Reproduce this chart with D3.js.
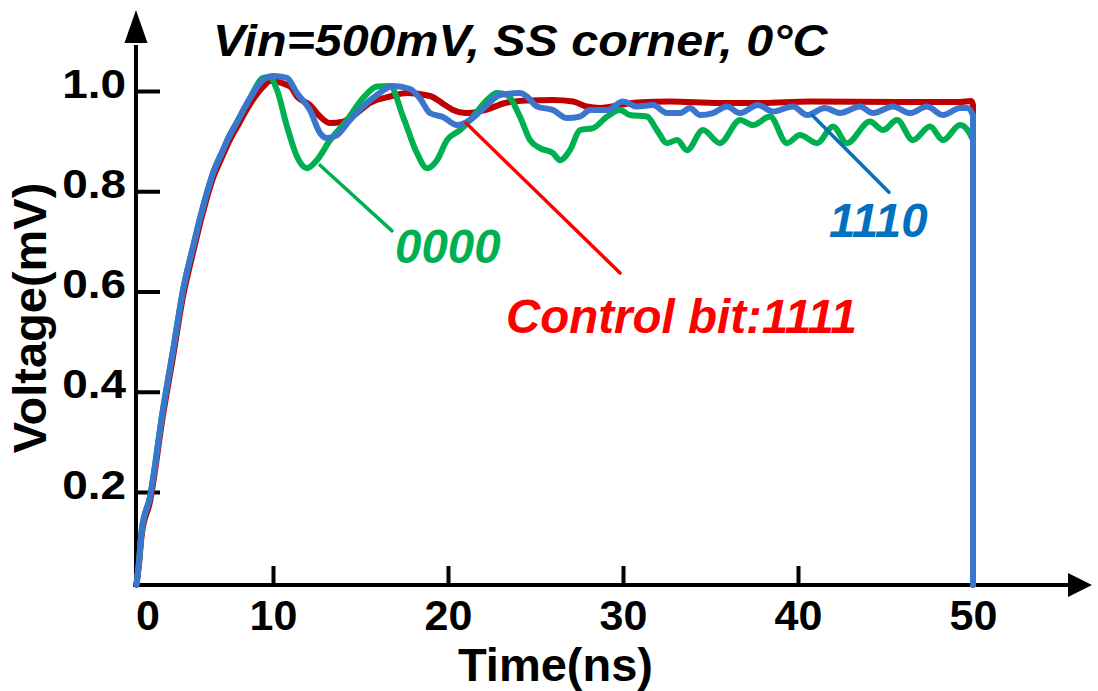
<!DOCTYPE html>
<html><head><meta charset="utf-8">
<script src="https://cdn.jsdelivr.net/npm/d3@7"></script>
<style>
html,body{margin:0;padding:0;background:#fff;}
text{font-family:"Liberation Sans",Arial,sans-serif;font-weight:bold;}
</style></head>
<body><svg id="chart" width="1098" height="691"></svg>
<script>
// ---- data ----
const titleText = "Vin=500mV, SS corner, 0°C";
const xLabel = "Time(ns)";
const yLabel = "Voltage(mV)";
const xTickValues = [10, 20, 30, 40, 50];
const xOriginLabel = "0";
const yTickValues = [0.2, 0.4, 0.6, 0.8, 1.0];

const timeRed = [2.2,2.34,2.5,2.97,3.71,4.29,4.86,5.43,6.0,6.57,7.14,7.5,7.94,8.69,9.43,9.83,10.97,11.37,12.11,12.69,13.26,14.0,14.8,15.54,16.69,17.66,18.97,19.83,20.29,20.97,22.11,23.26,24.51,26.0,27.14,27.94,28.69,29.83,30.8,32.69,35.54,37.83,40.69,45.83,49.26,49.9,50.0,50.0];
const voltRed = [.015,.055,.115,.18,.352,.47,.59,.677,.758,.826,.872,.9,.928,.974,1.008,1.02,1.009,.989,.972,.949,.936,.939,.956,.976,.989,.996,.99,.972,.962,.956,.962,.976,.981,.982,.979,.969,.966,.972,.977,.979,.976,.976,.979,.978,.978,.98,.972,.015];

const timeGreen = [2.2,2.34,2.5,2.97,3.71,4.29,4.86,5.43,6.0,6.57,7.14,7.5,7.94,8.69,9.43,9.8,10.23,10.8,11.37,11.94,12.51,13.26,14.23,15.14,15.94,16.69,17.43,18.23,18.8,19.37,19.94,20.69,21.43,22.23,22.8,23.37,24.11,24.69,25.26,26.0,26.4,26.97,27.54,28.29,29.09,29.83,30.4,31.37,31.94,32.51,33.09,33.66,34.57,35.54,36.69,37.43,38.4,39.37,40.11,41.09,42.0,42.8,44.11,44.86,45.66,46.57,47.54,48.29,49.26,50.0,50.0];
const voltGreen = [.015,.06,.124,.19,.364,.483,.603,.689,.769,.836,.882,.91,.938,.986,1.026,1.028,1.002,.929,.869,.846,.862,.902,.942,.986,1.009,1.01,.949,.876,.846,.862,.902,.922,.949,.982,.996,.992,.949,.902,.886,.876,.862,.882,.922,.926,.949,.962,.952,.949,.922,.896,.902,.882,.922,.896,.942,.932,.949,.896,.912,.896,.929,.896,.939,.922,.942,.902,.929,.902,.932,.902,.015];

const timeBlue = [2.2,2.34,2.5,2.97,3.71,4.29,4.86,5.43,6.0,6.57,7.14,7.5,7.94,8.69,9.43,10.0,10.8,11.37,12.11,12.69,13.09,13.66,14.4,15.14,15.94,16.86,17.83,18.4,18.97,19.71,20.51,21.26,22.11,22.97,24.11,24.51,25.09,26.0,26.8,27.54,28.11,29.09,30.0,30.8,31.71,32.51,33.26,33.83,34.4,35.14,35.94,36.69,37.71,38.57,39.71,40.51,41.54,42.4,43.54,44.29,45.43,46.4,47.37,48.29,49.26,49.66,50.0,50.0];
const voltBlue = [.015,.06,.124,.19,.364,.483,.603,.689,.769,.836,.882,.91,.938,.986,1.022,1.030,1.026,.996,.962,.916,.906,.912,.942,.969,.992,1.010,1.004,.985,.956,.948,.932,.942,.968,.992,.996,.989,.969,.962,.946,.949,.962,.962,.979,.969,.972,.956,.956,.966,.952,.956,.969,.956,.972,.959,.969,.952,.966,.956,.969,.956,.969,.956,.969,.952,.966,.966,.952,.015];

// annotations: leader line from (t0,v0) to (t1,v1), label anchored at (tl,vl)
const annoLabels = ["0000", "Control bit:1111", "1110"];
const annoLine = [[12.69,0.852,16.8,0.721],[21.03,0.936,29.83,0.637],[40.8,0.952,45.2,0.798]];
const annoText = [[16.97,0.657],[23.31,0.517],[41.77,0.709]];
const annoColors = ["#00B050", "#FF0000", "#0070C0"];

const series = [
  {t: timeRed, v: voltRed, color: "#C00000"},
  {t: timeGreen, v: voltGreen, color: "#00B050"},
  {t: timeBlue, v: voltBlue, color: "#3A76CE"}
];

// ---- scales ----
const svg = d3.select("#chart");
svg.append("rect").attr("width",1098).attr("height",691).attr("fill","#fff");
const x = d3.scaleLinear().domain([10, 50]).range([273, 973]);
const y = d3.scaleLinear().domain([0.2, 1.0]).range([492, 91]);
const x0 = x(2.17), yBase = y(0.0145);
const xEnd = 1070, yTop = 43;

// axis lines with arrows
const axisG = svg.append("g");
axisG.append("line").attr("x1",x0).attr("x2",x0).attr("y1",yBase+1).attr("y2",yTop+2)
  .attr("stroke","#000").attr("stroke-width",4);
axisG.append("path").attr("d",`M${x0-11.5},${yTop} L${x0},${yTop-33} L${x0+11.5},${yTop} Z`).attr("fill","#000");
axisG.append("line").attr("x1",x0-3).attr("x2",xEnd).attr("y1",yBase).attr("y2",yBase)
  .attr("stroke","#000").attr("stroke-width",4);
axisG.append("path").attr("d",`M${xEnd-2},${yBase-12} L${xEnd+22},${yBase} L${xEnd-2},${yBase+12} Z`).attr("fill","#000");

// d3 axes (ticks pointing inward)
const xAxis = d3.axisBottom(x).tickValues(xTickValues).tickSizeInner(-19).tickSizeOuter(0).tickPadding(15).tickFormat(d3.format("d"));
const gx = svg.append("g").attr("transform",`translate(0,${yBase})`).call(xAxis);
gx.select(".domain").remove();
gx.selectAll(".tick line").attr("stroke","#000").attr("stroke-width",4);
gx.selectAll(".tick text").attr("fill","#000").attr("font-size",43).attr("dy","0.71em").attr("font-family",null);
gx.append("text").attr("x",x0+12).attr("y",15).attr("dy","0.71em").attr("text-anchor","middle")
  .attr("fill","#000").attr("font-size",43).text(xOriginLabel);

const yAxis = d3.axisLeft(y).tickValues(yTickValues).tickSizeInner(-24).tickSizeOuter(0).tickPadding(10).tickFormat(d3.format(".1f"));
const gy = svg.append("g").attr("transform",`translate(${x0},0)`).call(yAxis);
gy.select(".domain").remove();
gy.selectAll(".tick line").attr("stroke","#000").attr("stroke-width",4);
gy.selectAll(".tick text").attr("fill","#000").attr("font-size",41).attr("dy","0.15em").attr("font-family",null)
  .attr("x",0).attr("transform","translate(-10,0) scale(1.12,1)");

// curves
const line = d3.line().x(d => x(d[0])).y(d => y(d[1])).curve(d3.curveMonotoneX);
series.forEach(s => {
  const pts = s.t.map((t,i) => [t, s.v[i]]);
  svg.append("path").attr("d", line(pts)).attr("fill","none").attr("stroke",s.color)
    .attr("stroke-width",6).attr("stroke-linejoin","round").attr("stroke-linecap","round");
});

// annotations
annoLabels.forEach((lab,i) => {
  const L = annoLine[i];
  svg.append("line").attr("x1",x(L[0])).attr("y1",y(L[1])).attr("x2",x(L[2])).attr("y2",y(L[3]))
    .attr("stroke",annoColors[i]).attr("stroke-width",3.5).attr("stroke-linecap","round");
  svg.append("text").attr("x",x(annoText[i][0])).attr("y",y(annoText[i][1]))
    .attr("fill",annoColors[i]).attr("font-size",47.5).attr("font-style","italic").text(lab);
});

// title and axis labels
svg.append("text").attr("transform","translate(213,56) scale(1.1,1)").attr("font-size",44).attr("font-style","italic")
  .attr("fill","#000").text(titleText);
svg.append("text").attr("x",(456+655)/2).attr("y",681).attr("text-anchor","middle")
  .attr("font-size",47).attr("fill","#000").text(xLabel);
svg.append("text").attr("transform",`translate(46,318) rotate(-90)`).attr("text-anchor","middle")
  .attr("font-size",47).attr("fill","#000").text(yLabel);
</script></body></html>
